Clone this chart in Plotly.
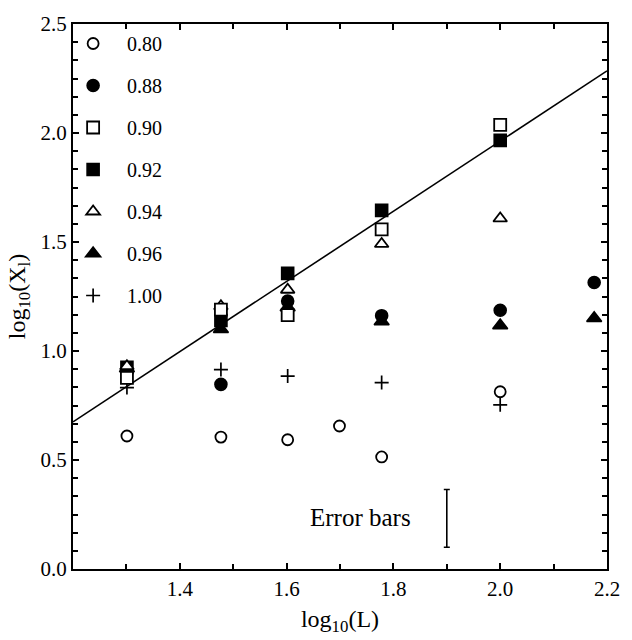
import plotly.graph_objects as go

# ---- data ----
x080 = [1.301, 1.477, 1.602, 1.699, 1.778, 2.0]
y080 = [0.61, 0.605, 0.593, 0.656, 0.514, 0.813]

x088 = [1.477, 1.602, 1.778, 2.0, 2.176]
y088 = [0.847, 1.229, 1.162, 1.187, 1.314]

x090 = [1.301, 1.477, 1.602, 1.778, 2.0]
y090 = [0.877, 1.19, 1.165, 1.558, 2.037]

x092 = [1.301, 1.477, 1.602, 1.778, 2.0]
y092 = [0.925, 1.14, 1.356, 1.645, 1.966]

x094 = [1.301, 1.477, 1.602, 1.778, 2.0]
y094 = [0.93, 1.205, 1.281, 1.491, 1.608]

x096 = [1.301, 1.477, 1.602, 1.778, 2.0, 2.176]
y096 = [0.92, 1.10, 1.20, 1.135, 1.117, 1.150]

x100 = [1.301, 1.477, 1.602, 1.778, 2.0]
y100 = [0.832, 0.915, 0.885, 0.855, 0.753]

fit_x = [1.2, 2.2]
fit_y = [0.675, 2.285]

err_x = [1.9]
err_center = [0.2325]
err_half = [0.1325]
err_label = "Error bars"
err_label_pos = (1.738, 0.234)

x_tickvals = [1.4, 1.6, 1.8, 2.0, 2.2]
y_tickvals = [0.0, 0.5, 1.0, 1.5, 2.0, 2.5]

FONT = "Liberation Serif"
BLACK = "black"

fig = go.Figure()

# fitted line
fig.add_trace(go.Scatter(x=fit_x, y=fit_y, mode="lines",
                         line=dict(color=BLACK, width=1.6),
                         showlegend=False, hoverinfo="skip"))

def add(name, xs, ys, symbol, size, fill, rank, lw=1.6):
    fig.add_trace(go.Scatter(
        x=xs, y=ys, mode="markers", name=name,
        legendgroup=name, legendrank=rank,
        marker=dict(symbol=symbol, size=size, color=fill,
                    line=dict(color=BLACK, width=lw)),
    ))

# filled first, open (white-filled) on top
add("0.88", x088, y088, "circle", 12, BLACK, 2)
add("0.92", x092, y092, "square", 12, BLACK, 4)
add("0.96", x096, y096, "triangle-up", 13, BLACK, 6)
add("1.00", x100, y100, "cross-thin", 10, BLACK, 7, lw=1.7)
add("0.94", x094, y094, "triangle-up", 12, "white", 5, lw=1.8)
add("0.80", x080, y080, "circle", 11, "white", 1, lw=1.8)
add("0.90", x090, y090, "square", 12, "white", 3, lw=1.8)

# error bar sample
fig.add_trace(go.Scatter(
    x=err_x, y=err_center, mode="markers",
    marker=dict(size=1, color="rgba(0,0,0,0)"),
    error_y=dict(type="data", array=err_half, visible=True,
                 color=BLACK, thickness=1.6, width=3),
    showlegend=False, hoverinfo="skip"))

fig.add_annotation(x=err_label_pos[0], y=err_label_pos[1], text=err_label,
                   showarrow=False, font=dict(family=FONT, size=25, color=BLACK))

axis_common = dict(
    showline=True, linecolor=BLACK, linewidth=2, mirror="ticks",
    ticks="inside", ticklen=6, tickwidth=1.5, tickcolor=BLACK,
    showgrid=False, zeroline=False,
    tickfont=dict(family=FONT, size=21, color=BLACK),
)

fig.update_xaxes(range=[1.2, 2.2], tickmode="array", tickvals=x_tickvals,
                 ticktext=[f"{v:.1f}" for v in x_tickvals],
                 minor=dict(dtick=0.1, tick0=1.2, ticks="inside", ticklen=5,
                            tickwidth=1.5, tickcolor=BLACK),
                 title=dict(text="log<sub>10</sub>(L)",
                            font=dict(family=FONT, size=24, color=BLACK),
                            standoff=10),
                 **axis_common)
fig.update_yaxes(range=[0, 2.5], tickmode="array", tickvals=y_tickvals,
                 ticktext=[f"{v:.1f}" for v in y_tickvals],
                 minor=dict(dtick=0.5 / 6, tick0=0, ticks="inside", ticklen=5,
                            tickwidth=1.5, tickcolor=BLACK),
                 title=dict(text="log<sub>10</sub>(X<sub>l</sub>)",
                            font=dict(family=FONT, size=24, color=BLACK),
                            standoff=8),
                 **axis_common)

fig.update_layout(
    width=632, height=640,
    margin=dict(l=73, r=15, t=14, b=71),
    paper_bgcolor="white", plot_bgcolor="white",
    font=dict(family=FONT, color=BLACK),
    legend=dict(x=-0.026, y=1.0, xanchor="left", yanchor="top",
                bgcolor="rgba(0,0,0,0)", borderwidth=0,
                font=dict(family=FONT, size=20, color=BLACK),
                tracegroupgap=13, itemwidth=58),
    showlegend=True,
)

fig.write_html("out.html")
